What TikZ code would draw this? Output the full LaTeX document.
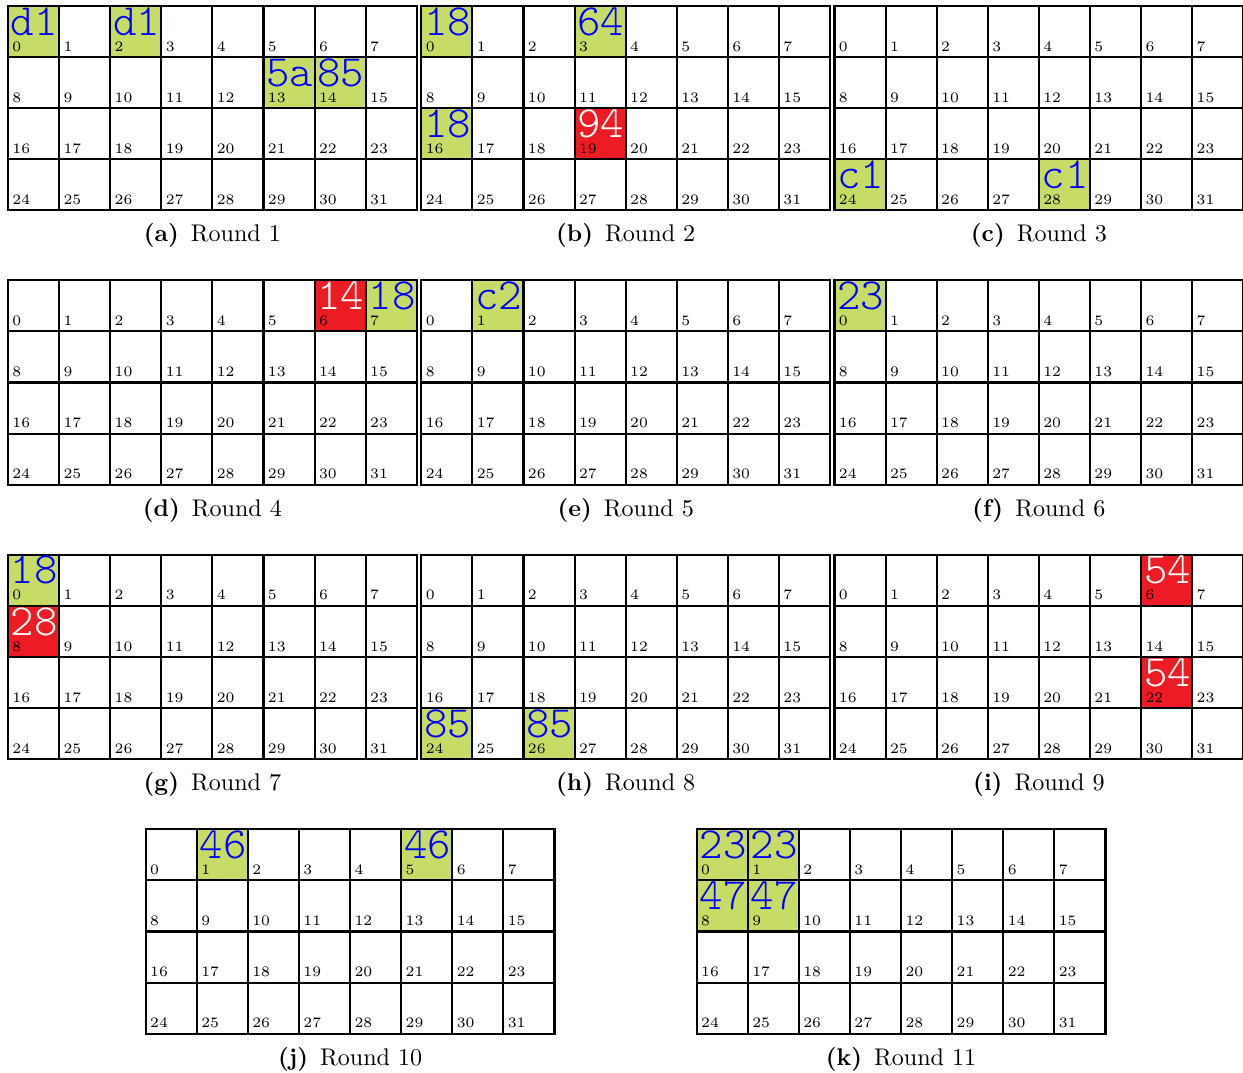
\documentclass[tikz,border=0pt]{standalone}
\usepackage{tikz}
\newlength\gpx
\setlength\gpx{0.415pt}
\pgfdeclarelayer{bg}
\pgfsetlayers{bg,main}
\definecolor{cgreen}{RGB}{199,219,103}
\definecolor{cred}{RGB}{237,28,36}
\definecolor{cblue}{RGB}{0,0,255}
\tikzset{
  gcell/.style={draw=black, line width=0.9pt, minimum width={51.1*\gpx}, minimum height={51.1*\gpx}, inner sep=0pt, outer sep=0pt},
  gidx/.style={font=\fontsize{6}{7}\selectfont, anchor=base west, inner sep=0pt},
  ghex/.style={font=\ttfamily\fontseries{l}\fontsize{18.5}{20}\selectfont, anchor=base west, inner sep=0pt},
  gcaption/.style={font=\normalsize, anchor=base, inner sep=0pt},
}
\newcommand{\drawgrid}[4]{%
  \foreach \i in {0,...,31}{%
    \pgfmathtruncatemacro{\gcol}{mod(\i,8)}%
    \pgfmathtruncatemacro{\grw}{div(\i,8)}%
    \node[gcell] (#1-\i) at ({#2+\gcol*51.1+25.55},{#3+\grw*51.1+25.55}) {};
    \node[gidx] (#1-\i-n) at ([xshift={4*\gpx},yshift={5.8*\gpx}]#1-\i.south west) {\i};
  }
  \node[gcaption] (#1-cap) at ({#2+204.4},{#3+236}) {\textbf{(#1)}\hspace{5pt}Round #4};
}
\newcommand{\hilite}[5]{%
  \begin{pgfonlayer}{bg}
    \fill[#3] (#1-#2.south west) rectangle (#1-#2.north east);
  \end{pgfonlayer}
  \node[ghex, text=#4] (#1-#2-v) at ([xshift={2.5*\gpx},yshift={-29.3*\gpx}]#1-#2.north west) {#5};
}
\begin{document}
\begin{tikzpicture}[x=\gpx, y=-\gpx]
\begin{pgfonlayer}{bg}
\fill[white] (0,0) rectangle (1243,1073);
\end{pgfonlayer}
\useasboundingbox (0,0) rectangle (1243,1073);
% row 1
\drawgrid{a}{8}{6}{1}
\drawgrid{b}{421.3}{6}{2}
\drawgrid{c}{834.5}{6}{3}
% row 2
\drawgrid{d}{8}{280.3}{4}
\drawgrid{e}{421.3}{280.3}{5}
\drawgrid{f}{834.5}{280.3}{6}
% row 3
\drawgrid{g}{8}{554.7}{7}
\drawgrid{h}{421.3}{554.7}{8}
\drawgrid{i}{834.5}{554.7}{9}
% row 4
\drawgrid{j}{145.7}{829.3}{10}
\drawgrid{k}{696.7}{829.3}{11}
% highlights
\hilite{a}{0}{cgreen}{cblue}{d1}
\hilite{a}{2}{cgreen}{cblue}{d1}
\hilite{a}{13}{cgreen}{cblue}{5a}
\hilite{a}{14}{cgreen}{cblue}{85}
\hilite{b}{0}{cgreen}{cblue}{18}
\hilite{b}{3}{cgreen}{cblue}{64}
\hilite{b}{16}{cgreen}{cblue}{18}
\hilite{b}{19}{cred}{white}{94}
\hilite{c}{24}{cgreen}{cblue}{c1}
\hilite{c}{28}{cgreen}{cblue}{c1}
\hilite{d}{6}{cred}{white}{14}
\hilite{d}{7}{cgreen}{cblue}{18}
\hilite{e}{1}{cgreen}{cblue}{c2}
\hilite{f}{0}{cgreen}{cblue}{23}
\hilite{g}{0}{cgreen}{cblue}{18}
\hilite{g}{8}{cred}{white}{28}
\hilite{h}{24}{cgreen}{cblue}{85}
\hilite{h}{26}{cgreen}{cblue}{85}
\hilite{i}{6}{cred}{white}{54}
\hilite{i}{22}{cred}{white}{54}
\hilite{j}{1}{cgreen}{cblue}{46}
\hilite{j}{5}{cgreen}{cblue}{46}
\hilite{k}{0}{cgreen}{cblue}{23}
\hilite{k}{1}{cgreen}{cblue}{23}
\hilite{k}{8}{cgreen}{cblue}{47}
\hilite{k}{9}{cgreen}{cblue}{47}
\end{tikzpicture}
\end{document}
